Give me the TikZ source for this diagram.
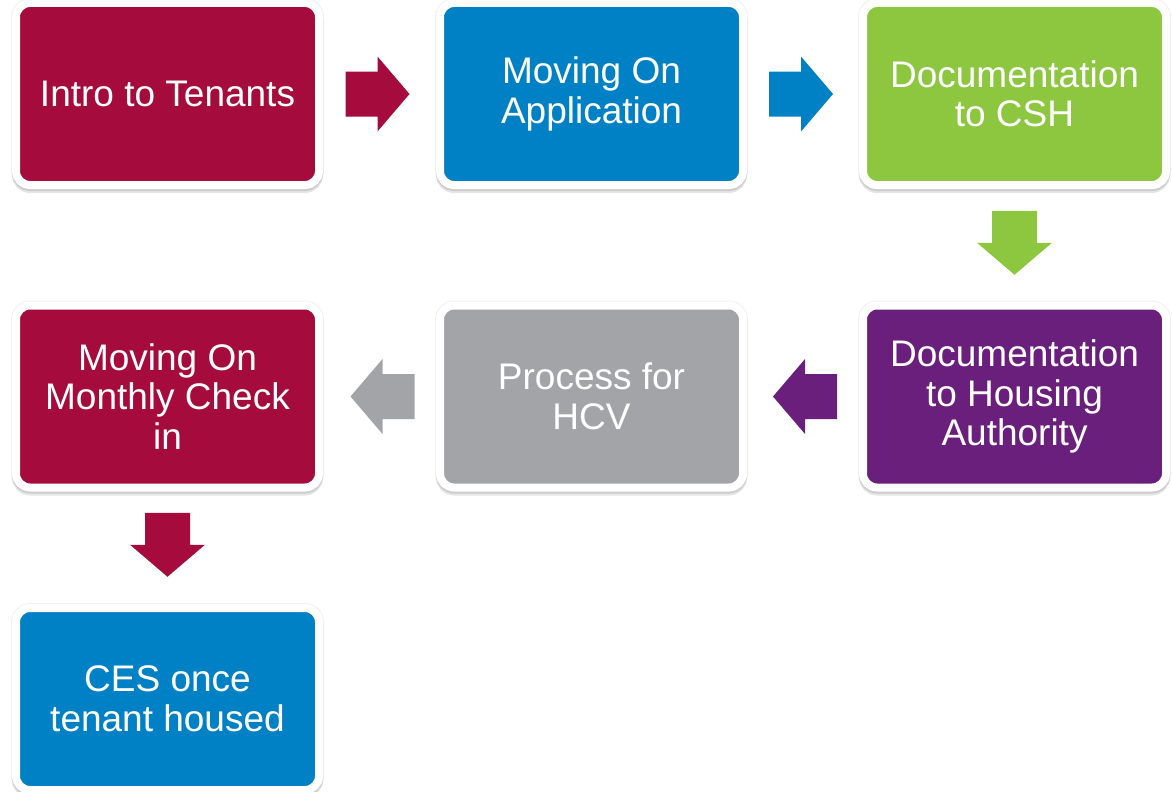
\documentclass[tikz,border=0pt]{standalone}
\usepackage{fontspec}
\setmainfont{Liberation Sans}
\usepackage{tikz}
\usetikzlibrary{calc}
\definecolor{csred}{HTML}{A50B3D}
\definecolor{csblue}{HTML}{0081C6}
\definecolor{csgreen}{HTML}{8DC63F}
\definecolor{cspurple}{HTML}{6B1F7C}
\definecolor{csgray}{HTML}{A2A4A7}
\begin{document}
\begin{tikzpicture}[x=1pt,y=1pt,
    stage/.style={rectangle, rounded corners=14pt, minimum width=303pt, minimum height=182pt,
      fill=#1, draw=white, line width=8pt, text=white, align=center,
      font=\fontsize{37}{39.5}\selectfont,
      preaction={draw=black!6, line width=10pt},
      preaction={draw=black!10, line width=8pt, transform canvas={yshift=-4pt}},
      preaction={draw=black!20, line width=8pt, transform canvas={yshift=-2pt}}},
    blockarrow/.pic={\fill (-32,-22.5) -- (0,-22.5) -- (0,-37.5) -- (32,0)
      -- (0,37.5) -- (0,22.5) -- (-32,22.5) -- cycle;}]
    \useasboundingbox (0,0) rectangle (1172,-792);
    \node [stage=csred] (intro) at (167.5,-94) {Intro to Tenants};
    \node [stage=csblue] (app) at (591.5,-94) {Moving On\\Application};
    \node [stage=csgreen] (csh) at (1014.5,-94) {Documentation\\to CSH};
    \node [stage=cspurple] (authority) at (1014.5,-396.5) {Documentation\\to Housing\\Authority};
    \node [stage=csgray] (hcv) at (591.5,-396.5) {Process for\\HCV};
    \node [stage=csred] (checkin) at (167.5,-396.5) {Moving On\\Monthly Check\\in};
    \node [stage=csblue] (ces) at (167.5,-699) {CES once\\tenant housed};
    \pic [csred] at ($(intro.east)!0.5!(app.west)+(-2,0)$) {blockarrow};
    \pic [csblue] at ($(app.east)!0.5!(csh.west)+(-2,0)$) {blockarrow};
    \pic [csgreen, rotate=-90] at ($(csh.south)!0.5!(authority.north)+(0,2.5)$) {blockarrow};
    \pic [cspurple, rotate=180] at ($(authority.west)!0.5!(hcv.east)+(2,0)$) {blockarrow};
    \pic [csgray, rotate=180] at ($(hcv.west)!0.5!(checkin.east)+(3,0)$) {blockarrow};
    \pic [csred, rotate=-90] at ($(checkin.south)!0.5!(ces.north)+(0,3)$) {blockarrow};
\end{tikzpicture}
\end{document}
